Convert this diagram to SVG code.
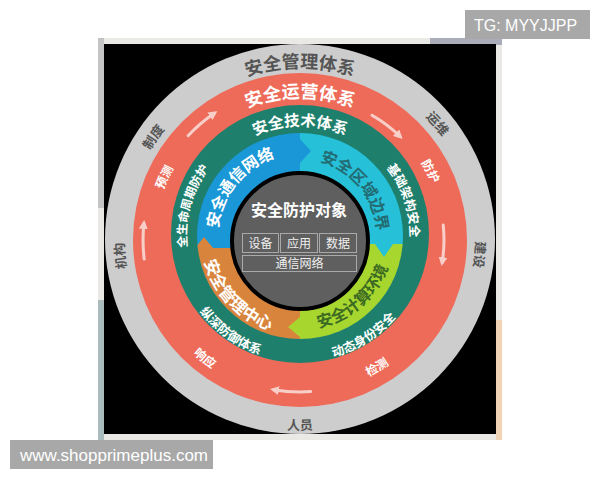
<svg xmlns="http://www.w3.org/2000/svg" width="600" height="480" viewBox="0 0 600 480">
<style>
.cjk{font-family:"Noto Sans CJK SC","Noto Sans",sans-serif;font-weight:700}
.g{fill:#555}
.w{fill:#fff}
.box{fill:none;stroke:#a9a9a9;stroke-width:1}
.boxt{font-family:"Noto Sans CJK SC","Noto Sans",sans-serif;font-size:12px;fill:#f0f0f0;text-anchor:middle}
.arr{fill:none;stroke:#f8cfc8;stroke-width:3;stroke-linecap:round}
.wm{fill:#a8a8a8}
.wmt{font-family:"Liberation Sans",Arial,sans-serif;fill:#fff}
</style>
<defs>
<marker id="ah" viewBox="0 0 10 10" refX="6" refY="5" markerWidth="3" markerHeight="3" orient="auto" markerUnits="strokeWidth">
<path d="M0,0 L10,5 L0,10 z" fill="#f8cfc8"/>
</marker>
<clipPath id="sc"><circle cx="300" cy="236" r="103"/></clipPath>
<path id="p1" d="M151.9,153.5 A171,171 0 0 1 448.1,153.5"/>
<path id="p2" d="M126.6,224.4 A174,174 0 0 1 225.9,81.6"/>
<path id="p3" d="M359.9,74.6 A175,175 0 0 1 472.3,208.6"/>
<path id="p4" d="M459.1,164.8 A175.5,175.5 0 0 1 443.8,339.7"/>
<path id="p5" d="M156.7,340.8 A175.8,175.8 0 0 1 140.1,165.8"/>
<path id="p6" d="M204.5,404.4 A191,191 0 0 0 395.5,404.4"/>
<path id="p7" d="M177,169 A142,142 0 0 1 423,169"/>
<path id="p8" d="M155.1,252.9 A145.5,145.5 0 0 1 216.3,121"/>
<path id="p9" d="M376.5,118.6 A143.5,143.5 0 0 1 443.4,245.5"/>
<path id="p10" d="M303.2,393 A153,153 0 0 0 434.1,313.7"/>
<path id="p11" d="M154.6,296.4 A156,156 0 0 0 276.1,394.2"/>
<path id="p12" d="M204.7,181 A110,110 0 0 1 395.3,181"/>
<path id="p13" d="M206.5,300.3 A113.5,113.5 0 0 1 252.9,132.7"/>
<path id="p14" d="M339.8,133.4 A110,110 0 0 1 394.1,293"/>
<path id="p15" d="M262.5,355.8 A125.5,125.5 0 0 0 424.5,252.2"/>
<path id="p16" d="M174.8,244.8 A125.5,125.5 0 0 0 330.4,357.8"/>
<path id="p17" d="M221.3,258.9 A82,82 0 0 1 305.4,154.2"/>
<path id="p18" d="M287.3,160.1 A77,77 0 0 1 372.1,263"/>
<path id="p19" d="M269.6,324.4 A93.5,93.5 0 0 0 391.8,218.2"/>
<path id="p20" d="M205,208.2 A99,99 0 0 0 323.4,332.2"/>
</defs>

<g id="frame">
<rect x="98" y="38" width="404" height="402" fill="#ebe9e6"/>
<rect x="98" y="38" width="6" height="170" fill="#c4c4c4"/>
<rect x="98" y="300" width="6" height="140" fill="#aabcbc"/>
<rect x="430" y="38" width="72" height="7" fill="#aaacb9"/>
<rect x="496" y="320" width="6" height="120" fill="#efd3b4"/>
<rect x="104" y="44" width="392" height="390" fill="#000"/>
</g>

<g id="ring-management">
<circle cx="300" cy="239" r="195" fill="#cdcdcd"/>
<text class="cjk g" font-size="18"><textPath href="#p1" startOffset="50%" text-anchor="middle">安全管理体系</textPath></text>
<text class="cjk g" font-size="13"><textPath href="#p2" startOffset="50%" text-anchor="middle">制度</textPath></text>
<text class="cjk g" font-size="13"><textPath href="#p3" startOffset="50%" text-anchor="middle">运维</textPath></text>
<text class="cjk g" font-size="13"><textPath href="#p4" startOffset="50%" text-anchor="middle">建设</textPath></text>
<text class="cjk g" font-size="13"><textPath href="#p5" startOffset="50%" text-anchor="middle">机构</textPath></text>
<text class="cjk g" font-size="13"><textPath href="#p6" startOffset="50%" text-anchor="middle">人员</textPath></text>
</g>

<g id="ring-operation">
<circle cx="300" cy="240" r="167" fill="#ee6b5a"/>
<text class="cjk w" font-size="18"><textPath href="#p7" startOffset="50%" text-anchor="middle">安全运营体系</textPath></text>
<text class="cjk w" font-size="12"><textPath href="#p8" startOffset="50%" text-anchor="middle">预测</textPath></text>
<text class="cjk w" font-size="12"><textPath href="#p9" startOffset="50%" text-anchor="middle">防护</textPath></text>
<text class="cjk w" font-size="12"><textPath href="#p10" startOffset="50%" text-anchor="middle">检测</textPath></text>
<text class="cjk w" font-size="12"><textPath href="#p11" startOffset="50%" text-anchor="middle">响应</textPath></text>
</g>

<g id="connectors">
<path class="arr" d="M188.1,135.7 A153,153 0 0 1 214.4,113.2" marker-end="url(#ah)"/>
<path class="arr" d="M372,115.3 A144,144 0 0 1 400,136.4" marker-end="url(#ah)"/>
<path class="arr" d="M443.2,225 A144,144 0 0 1 442.2,262.5" marker-end="url(#ah)"/>
<path class="arr" d="M310.6,391.6 A152,152 0 0 1 273.6,389.7" marker-end="url(#ah)"/>
<path class="arr" d="M144.2,259.1 A157,157 0 0 1 143.9,223.6" marker-end="url(#ah)"/>
</g>

<g id="ring-technology">
<circle cx="300" cy="234" r="129" fill="#1f7f6d"/>
<text class="cjk w" font-size="15.5"><textPath href="#p12" startOffset="50%" text-anchor="middle">安全技术体系</textPath></text>
<text class="cjk w" font-size="12"><textPath href="#p13" startOffset="50%" text-anchor="middle">全生命周期防护</textPath></text>
<text class="cjk w" font-size="12.5"><textPath href="#p14" startOffset="50%" text-anchor="middle">基础架构安全</textPath></text>
<text class="cjk w" font-size="12.5"><textPath href="#p15" startOffset="50%" text-anchor="middle">动态身份安全</textPath></text>
<text class="cjk w" font-size="12.5"><textPath href="#p16" startOffset="50%" text-anchor="middle">纵深防御体系</textPath></text>
</g>

<g id="sectors">
<g clip-path="url(#sc)">
<rect id="sector-network" x="190" y="128" width="110" height="120" fill="#1a97d7"/>
<rect id="sector-boundary" x="300" y="128" width="112" height="116" fill="#26c1d8"/>
<rect id="sector-computing" x="300" y="244" width="112" height="100" fill="#a7d62f"/>
<rect id="sector-center" x="188" y="248" width="112" height="96" fill="#d9843d"/>
<path d="M300,139 L311,151 L300,163 z" fill="#1a97d7"/>
<path d="M375,244 L393,244 L384,257 z" fill="#26c1d8"/>
<path d="M300,317 L288,327 L300,337 z" fill="#a7d62f"/>
<path d="M195,248 L213,248 L204,237 z" fill="#d9843d"/>
</g>
<text class="cjk w" font-size="16"><textPath href="#p17" startOffset="50%" text-anchor="middle">安全通信网络</textPath></text>
<text class="cjk" font-size="16" fill="#236b72"><textPath href="#p18" startOffset="50%" text-anchor="middle">安全区域边界</textPath></text>
<text class="cjk" font-size="16" fill="#3b6a22"><textPath href="#p19" startOffset="50%" text-anchor="middle">安全计算环境</textPath></text>
<text class="cjk w" font-size="16.5"><textPath href="#p20" startOffset="50%" text-anchor="middle">安全管理中心</textPath></text>
</g>

<g id="center">
<circle cx="300" cy="241" r="68" fill="#5f5f5f" stroke="#000" stroke-width="4"/>
<text class="cjk w" x="299" y="216" font-size="16" text-anchor="middle">安全防护对象</text>
<rect class="box" x="242.5" y="233.5" width="36" height="19"/>
<rect class="box" x="280.5" y="233.5" width="37" height="19"/>
<rect class="box" x="319.5" y="233.5" width="37" height="19"/>
<rect class="box" x="242.5" y="255.5" width="114" height="16"/>
<text class="boxt" x="260.5" y="247.5">设备</text>
<text class="boxt" x="299" y="247.5">应用</text>
<text class="boxt" x="338" y="247.5">数据</text>
<text class="boxt" x="299.5" y="268">通信网络</text>
</g>

<g id="watermarks">
<rect class="wm" x="465" y="10" width="125" height="29"/>
<text class="wmt" x="474" y="31" font-size="16">TG: MYYJJPP</text>
<rect class="wm" x="10" y="440" width="203" height="29"/>
<text class="wmt" x="20" y="461" font-size="17">www.shopprimeplus.com</text>
</g>
</svg>
